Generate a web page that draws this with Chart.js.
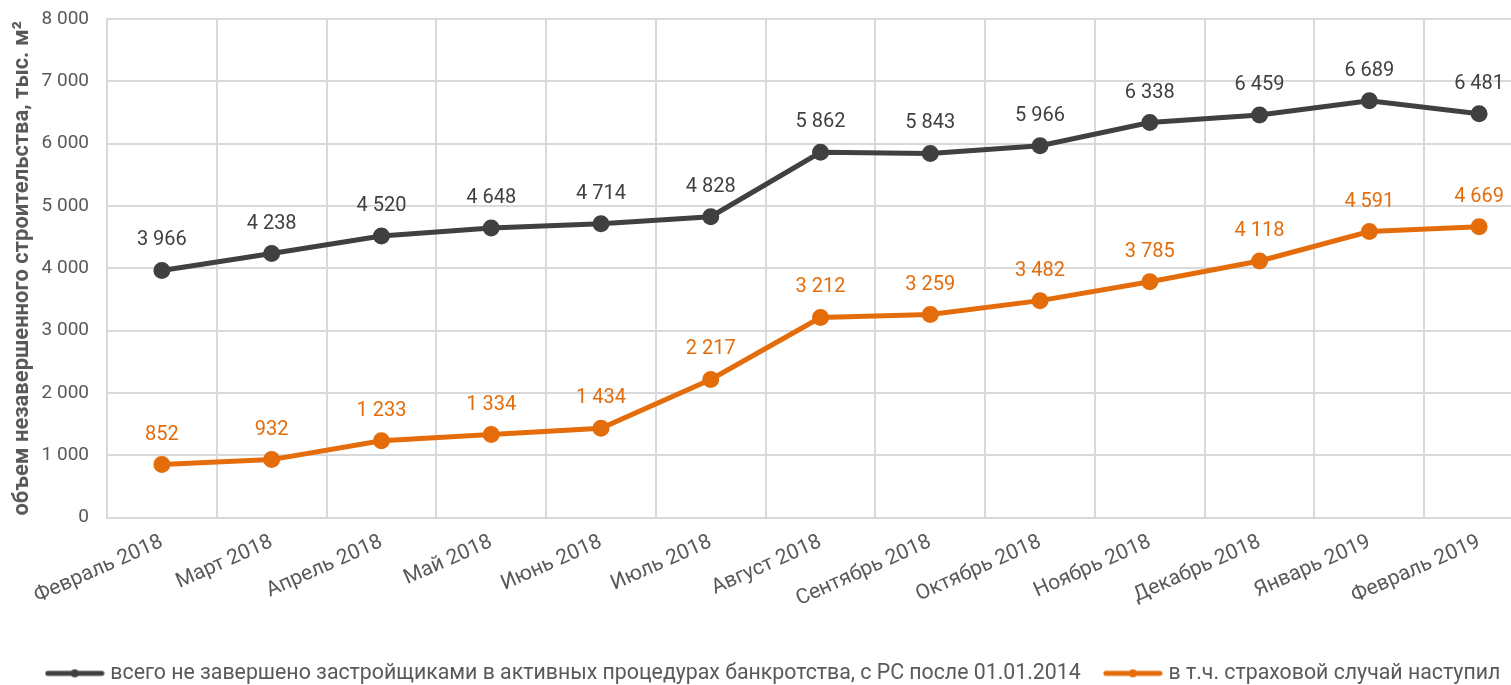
<!DOCTYPE html>
<html lang="ru">
<head>
<meta charset="utf-8">
<title>Объем незавершенного строительства</title>
<script src="https://cdn.jsdelivr.net/npm/chart.js@4/dist/chart.umd.min.js"></script>
<style>
  html, body { margin: 0; padding: 0; background: #fff; overflow: hidden; }
  /* график шире окна: правый край обрезан, как в оригинале */
  #wrap { width: 1545px; height: 685px; }
</style>
</head>
<body>
<div id="wrap"><canvas id="chart" width="1545" height="685"></canvas></div>
<script>
/* Данные */
const MONTHS = [
  'Февраль 2018', 'Март 2018', 'Апрель 2018', 'Май 2018', 'Июнь 2018', 'Июль 2018',
  'Август 2018', 'Сентябрь 2018', 'Октябрь 2018', 'Ноябрь 2018', 'Декабрь 2018',
  'Январь 2019', 'Февраль 2019',
];
const TOTAL   = [3966, 4238, 4520, 4648, 4714, 4828, 5862, 5843, 5966, 6338, 6459, 6689, 6481];
const INSURED = [852, 932, 1233, 1334, 1434, 2217, 3212, 3259, 3482, 3785, 4118, 4591, 4669];

const TOTAL_LABEL   = 'всего не завершено застройщиками в активных процедурах банкротства, с РС после 01.01.2014';
const INSURED_LABEL = 'в т.ч. страховой случай наступил';
const Y_TITLE       = 'объем незавершенного строительства, тыс. м²';

const DARK   = '#404040';
const ORANGE = '#E46C0A';
const MUTED  = '#595959';
const GRID   = '#d9d9d9';
const FONT   = 'Roboto, "Noto Sans", sans-serif';

/* 3966 → "3 966" */
const fmt = (v) => String(v).replace(/\B(?=(\d{3})+(?!\d))/g, ' ');

/* значок легенды: линия с точкой посередине */
function legendIcon(color) {
  const c = document.createElement('canvas');
  c.width = 60; c.height = 12;
  const g = c.getContext('2d');
  g.strokeStyle = color; g.fillStyle = color;
  g.lineWidth = 5; g.lineCap = 'round';
  g.beginPath(); g.moveTo(3, 6); g.lineTo(57, 6); g.stroke();
  g.beginPath(); g.arc(30, 6, 4, 0, Math.PI * 2); g.fill();
  return c;
}

/* подписи значений над точками */
const valueLabels = {
  id: 'valueLabels',
  afterDatasetsDraw(chart) {
    const { ctx } = chart;
    ctx.save();
    ctx.font = `20px ${FONT}`;
    ctx.textAlign = 'center';
    ctx.textBaseline = 'middle';
    chart.data.datasets.forEach((ds, i) => {
      const meta = chart.getDatasetMeta(i);
      ctx.fillStyle = ds.borderColor;
      meta.data.forEach((pt, j) => {
        ctx.fillText(fmt(ds.data[j]), pt.x, pt.y - 30);
      });
    });
    ctx.restore();
  },
};

const line = (label, data, color) => ({
  label, data,
  borderColor: color, backgroundColor: color,
  pointBackgroundColor: color, pointBorderColor: color,
  borderWidth: 5, pointRadius: 6, pointHoverRadius: 6,
  tension: 0, fill: false,
});

new Chart(document.getElementById('chart'), {
  type: 'line',
  data: {
    labels: MONTHS,
    datasets: [line(TOTAL_LABEL, TOTAL, DARK), line(INSURED_LABEL, INSURED, ORANGE)],
  },
  plugins: [valueLabels],
  options: {
    responsive: false, animation: false,
    // слева 16 px отступа: сдвигает легенду к центру как в оригинале
    layout: { padding: { top: 19, right: 11, bottom: -9, left: 16 } },
    plugins: {
      tooltip: { enabled: false },
      legend: {
        position: 'bottom',
        labels: {
          color: MUTED, font: { family: FONT, size: 21.3 },
          usePointStyle: true, pointStyleWidth: 50, padding: 6,
          generateLabels: (chart) => chart.data.datasets.map((ds, i) => ({
            // пробелы в конце — зазор между элементами легенды
            text: i === 0 ? ds.label + '    ' : ds.label,
            fontColor: MUTED,
            pointStyle: legendIcon(ds.borderColor),
            datasetIndex: i, hidden: false, lineWidth: 0,
          })),
        },
      },
    },
    scales: {
      x: {
        offset: true,
        grid: { color: GRID, lineWidth: 2, offset: true, drawTicks: false },
        border: { color: GRID, width: 2 },
        ticks: {
          color: MUTED, font: { family: FONT, size: 21 },
          minRotation: 24, maxRotation: 24, autoSkip: false, padding: 12,
        },
        afterFit: (s) => { s.height = 139; },
      },
      y: {
        min: 0, max: 8000,
        grid: { color: GRID, lineWidth: 2, drawTicks: false },
        border: { color: GRID, width: 2 },
        ticks: {
          stepSize: 1000, color: MUTED, font: { family: FONT, size: 19 },
          padding: 18, callback: (v) => fmt(v),
        },
        title: {
          display: true, text: Y_TITLE, color: MUTED,
          font: { family: FONT, size: 22, weight: 'bold' },
          padding: { top: -7, bottom: 0 },
        },
        afterFit: (s) => {
          s.width = 91;
          s.paddingTop = 0;  // верх области графика задаётся layout.padding
          s.paddingBottom = 0;
        },
      },
    },
  },
});
</script>
</body>
</html>
